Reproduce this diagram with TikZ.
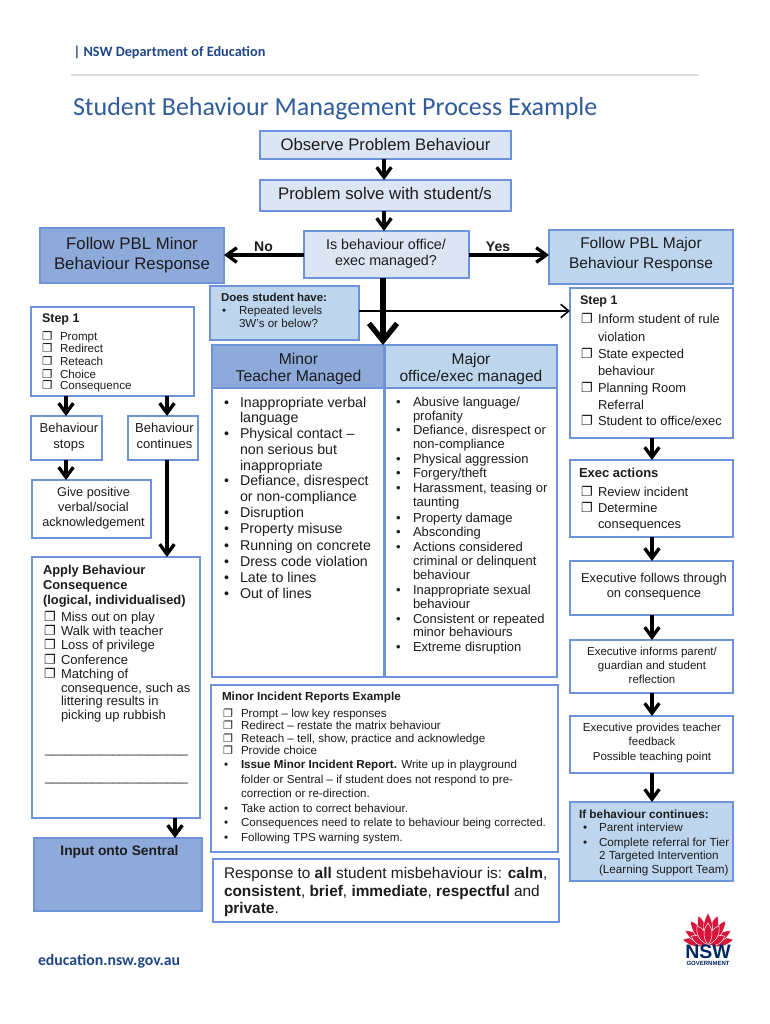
\documentclass[tikz,border=0pt]{standalone}
\usepackage{fontspec}
\setmainfont{Liberation Sans}
\newfontfamily\calib{Carlito}
\newfontfamily\djv{DejaVu Sans}
\usetikzlibrary{arrows.meta}
\definecolor{bord}{HTML}{6F93DA}
\definecolor{lightb}{HTML}{DCE5F3}
\definecolor{midb}{HTML}{8EAADB}
\definecolor{paleb}{HTML}{BDD6EE}
\definecolor{navy}{HTML}{1F4788}
\definecolor{titleb}{HTML}{2F5C9A}
\definecolor{ink}{HTML}{1C1C1C}
\definecolor{waratah}{HTML}{D7153A}
\definecolor{govnavy}{HTML}{002664}
\newcommand\fs[1]{\fontsize{\fpeval{#1*0.75}}{\fpeval{#1*0.9}}\selectfont}
\newcount\tn
\newcommand\bx[6]{\node[boxn,#2,minimum width=\fpeval{(#5-#3)*0.75}pt,minimum height=\fpeval{(#6-#4)*0.75}pt] (#1) at (\fpeval{(#3+#5)/2},\fpeval{(#4+#6)/2}) {};}
\newcommand\tl[4]{\global\advance\tn by 1 \node[txtl] (t\number\tn) at (#2,#3) {\fs{#1}#4};}
\newcommand\tc[4]{\global\advance\tn by 1 \node[txtc] (t\number\tn) at (#2,#3) {\fs{#1}#4};}
\newcommand\ckl[3]{\global\advance\tn by 1 \node[txtl] (t\number\tn) at (#2,#3) {\djv\fs{\fpeval{#1*1.05}}❐};}
\newcommand\bul[3]{\global\advance\tn by 1 \node[txtl] (t\number\tn) at (#2,#3) {\fs{#1}•};}
\newcommand\petal[3]{\fill[waratah,draw=white,line width=0.35pt,shift={(708,945)},rotate=#1] (0,0) .. controls (-#3,-0.45*#2) and (-0.5*#3,-0.8*#2) .. (0,-#2) .. controls (0.5*#3,-0.8*#2) and (#3,-0.45*#2) .. (0,0) -- cycle;}
\tikzset{
 boxn/.style={draw=bord,line width=0.95pt,inner sep=0pt,outer sep=0pt,fill=white,rectangle},
 lightfill/.style={fill=lightb},
 midfill/.style={fill=midb},
 palefill/.style={fill=paleb},
 txtl/.style={anchor=base west,inner sep=0pt,outer sep=0pt,text=ink},
 txtc/.style={anchor=base,inner sep=0pt,outer sep=0pt,text=ink},
 flow/.style={draw=black,line width=2.7pt,-{Straight Barb[length=7.5pt,width=11pt,line width=2.5pt]}},
 thin flow/.style={draw=black,line width=1.2pt,-{Straight Barb[length=6pt,width=10pt,line width=1.2pt]}},
 big flow/.style={draw=black,line width=4.4pt,-{Straight Barb[length=13pt,width=21pt,line width=4pt]}}
}
\begin{document}
\begin{tikzpicture}[x=0.75pt,y=-0.75pt]
\useasboundingbox (0,0) rectangle (770,1024);
% header
\node[txtl,text=navy] (hdr) at (73.5,57) {\calib\bfseries\fs{14.3}| NSW Department of Education};
\coordinate (ruleA) at (71,75); \coordinate (ruleB) at (699,75);
\draw[color=black!13,line width=1.2pt] (ruleA) -- (ruleB);
\node[txtl,text=titleb] (title) at (73,115) {\calib\fs{26}Student Behaviour Management Process Example};
% boxes
\bx{obs}{lightfill}{260}{131}{511}{159}
\bx{prob}{lightfill}{260}{180}{511}{211}
\bx{isb}{lightfill}{304}{231}{469}{278}
\bx{minresp}{midfill}{40}{228}{224}{283}
\bx{majresp}{palefill}{549}{230}{733}{284}
\bx{does}{palefill}{210}{286}{359}{340}
\bx{stepL}{}{31}{307}{194}{396}
\bx{minh}{midfill}{212}{345}{384}{388}
\bx{majh}{palefill}{385}{345}{557}{388}
\bx{minl}{}{212}{388}{384}{677}
\bx{majl}{}{385}{388}{557}{677}
\bx{report}{}{211}{685}{558}{852}
\bx{resp}{}{213}{859}{559}{922}
\bx{stepR}{}{570}{288}{733}{438}
\bx{execa}{}{570}{460}{733}{537}
\bx{follows}{}{570}{561}{733}{615}
\bx{informs}{}{570}{640}{733}{693}
\bx{provides}{}{570}{716}{733}{773}
\bx{ifcont}{palefill}{570}{802}{733}{881}
\bx{stops}{}{31}{416}{102}{460}
\bx{cont}{}{128}{416}{198}{460}
\bx{give}{}{32}{480}{151}{538}
\bx{apply}{}{32}{557}{200}{818}
\bx{input}{midfill}{34}{838}{202}{911}
% arrow guide coordinates
\coordinate (xa) at (384,0); \coordinate (xb) at (383,0); \coordinate (xc) at (66,0);
\coordinate (xd) at (167,0); \coordinate (xe) at (175,0); \coordinate (xf) at (652,0);
\coordinate (ya) at (0,255); \coordinate (yb) at (0,311);
% arrows
\draw[flow] (obs.south -| xa) -- (prob.north -| xa);
\draw[flow] (prob.south -| xa) -- (isb.north -| xa);
\draw[flow] (isb.west |- ya) -- (minresp.east |- ya);
\draw[flow] (isb.east |- ya) -- (majresp.west |- ya);
\draw[thin flow] (does.east |- yb) -- (stepR.west |- yb);
\draw[big flow] (isb.south -| xb) -- (minh.north -| xb);
\draw[flow] (stepL.south -| xc) -- (stops.north -| xc);
\draw[flow] (stepL.south -| xd) -- (cont.north -| xd);
\draw[flow] (stops.south -| xc) -- (give.north -| xc);
\draw[flow] (cont.south -| xd) -- (apply.north -| xd);
\draw[flow] (apply.south -| xe) -- (input.north -| xe);
\draw[flow] (stepR.south -| xf) -- (execa.north -| xf);
\draw[flow] (execa.south -| xf) -- (follows.north -| xf);
\draw[flow] (follows.south -| xf) -- (informs.north -| xf);
\draw[flow] (informs.south -| xf) -- (provides.north -| xf);
\draw[flow] (provides.south -| xf) -- (ifcont.north -| xf);
% top texts
\tc{16.7}{385.5}{150}{Observe Problem Behaviour}
\tc{16.8}{385}{199}{Problem solve with student/s}
\tc{16.8}{132}{249}{Follow PBL Minor}
\tc{16.8}{132}{269}{Behaviour Response}
\tc{14.3}{386}{249}{Is behaviour office/}
\tc{14.3}{386}{265}{exec managed?}
\tc{14}{263.5}{251.5}{\bfseries No}
\tc{14}{498}{251.5}{\bfseries Yes}
\tc{15.5}{641}{248}{Follow PBL Major}
\tc{15.5}{641}{268}{Behaviour Response}
% does
\tl{11.5}{221}{301}{\bfseries Does student have:}
\bul{11.5}{222}{314}
\tl{11.6}{239}{314}{Repeated levels}
\tl{11.6}{239}{327}{3W's or below?}
% step left
\tl{12.5}{42}{322}{\bfseries Step 1}
\ckl{11}{42}{340}\tl{11.6}{60}{340}{Prompt}
\ckl{11}{42}{352.5}\tl{11.6}{60}{352.5}{Redirect}
\ckl{11}{42}{365}\tl{11.6}{60}{365}{Reteach}
\ckl{11}{42}{378}\tl{11.6}{60}{378}{Choice}
\ckl{11}{42}{389}\tl{11.6}{60}{389}{Consequence}
% headers
\tc{15.7}{298.5}{364}{Minor}
\tc{15.7}{298.5}{381}{Teacher Managed}
\tc{15.5}{471}{364}{Major}
\tc{15.5}{471}{381}{office/exec managed}
% minor list
\bul{14.2}{224}{407}\tl{14.2}{240}{407}{Inappropriate verbal}
\tl{14.2}{240}{422}{language}
\bul{14.2}{224}{438}\tl{14.2}{240}{438}{Physical contact –}
\tl{14.2}{240}{454}{non serious but}
\tl{14.2}{240}{470}{inappropriate}
\bul{14.2}{224}{485}\tl{14.2}{240}{485}{Defiance, disrespect}
\tl{14.2}{240}{501}{or non-compliance}
\bul{14.2}{224}{517}\tl{14.2}{240}{517}{Disruption}
\bul{14.2}{224}{533}\tl{14.2}{240}{533}{Property misuse}
\bul{14.2}{224}{550}\tl{14.2}{240}{550}{Running on concrete}
\bul{14.2}{224}{566}\tl{14.2}{240}{566}{Dress code violation}
\bul{14.2}{224}{582}\tl{14.2}{240}{582}{Late to lines}
\bul{14.2}{224}{598}\tl{14.2}{240}{598}{Out of lines}
% major list
\bul{13}{396}{406}\tl{13}{413}{406}{Abusive language/}
\tl{13}{413}{420}{profanity}
\bul{13}{396}{434}\tl{13}{413}{434}{Defiance, disrespect or}
\tl{13}{413}{448}{non-compliance}
\bul{13}{396}{463}\tl{13}{413}{463}{Physical aggression}
\bul{13}{396}{477}\tl{13}{413}{477}{Forgery/theft}
\bul{13}{396}{492}\tl{13}{413}{492}{Harassment, teasing or}
\tl{13}{413}{506}{taunting}
\bul{13}{396}{522}\tl{13}{413}{522}{Property damage}
\bul{13}{396}{536}\tl{13}{413}{536}{Absconding}
\bul{13}{396}{551}\tl{13}{413}{551}{Actions considered}
\tl{13}{413}{565}{criminal or delinquent}
\tl{13}{413}{579}{behaviour}
\bul{13}{396}{594}\tl{13}{413}{594}{Inappropriate sexual}
\tl{13}{413}{608}{behaviour}
\bul{13}{396}{623}\tl{13}{413}{623}{Consistent or repeated}
\tl{13}{413}{636}{minor behaviours}
\bul{13}{396}{651}\tl{13}{413}{651}{Extreme disruption}
% report
\tl{11.7}{222}{700}{\bfseries Minor Incident Reports Example}
\ckl{10.5}{223}{717}\tl{11.6}{241}{717}{Prompt – low key responses}
\ckl{10.5}{223}{729}\tl{11.6}{241}{729}{Redirect – restate the matrix behaviour}
\ckl{10.5}{223}{742}\tl{11.6}{241}{742}{Reteach – tell, show, practice and acknowledge}
\ckl{10.5}{223}{754}\tl{11.6}{241}{754}{Provide choice}
\bul{11.6}{224}{768}\tl{11.6}{241}{768}{\textbf{Issue Minor Incident Report.} Write up in playground}
\tl{11.6}{241}{783}{folder or Sentral – if student does not respond to pre-}
\tl{11.6}{241}{797}{correction or re-direction.}
\bul{11.6}{224}{812}\tl{11.6}{241}{812}{Take action to correct behaviour.}
\bul{11.6}{224}{826}\tl{11.6}{241}{826}{Consequences need to relate to behaviour being corrected.}
\bul{11.6}{224}{841}\tl{11.6}{241}{841}{Following TPS warning system.}
% response
\tl{15.4}{224}{878}{Response to \textbf{all} student misbehaviour is: \textbf{calm},}
\tl{15.4}{224}{896}{\textbf{consistent}, \textbf{brief}, \textbf{immediate}, \textbf{respectful} and}
\tl{15.4}{224}{913}{\textbf{private}.}
% left lower
\tc{13}{69}{432}{Behaviour}
\tc{13}{69}{448}{stops}
\tc{13}{164.5}{432}{Behaviour}
\tc{13}{164.5}{448}{continues}
\tc{12.7}{93.5}{496}{Give positive}
\tc{12.7}{93.5}{511}{verbal/social}
\tc{12.7}{93.5}{526}{acknowledgement}
\tl{12.9}{43}{574}{\bfseries Apply Behaviour}
\tl{12.9}{43}{589}{\bfseries Consequence}
\tl{12.9}{43}{604}{\bfseries (logical, individualised)}
\ckl{12.5}{44}{621}\tl{13}{61}{621}{Miss out on play}
\ckl{12.5}{44}{635}\tl{13}{61}{635}{Walk with teacher}
\ckl{12.5}{44}{649}\tl{13}{61}{649}{Loss of privilege}
\ckl{12.5}{44}{664}\tl{13}{61}{664}{Conference}
\ckl{12.5}{44}{678}\tl{13}{61}{678}{Matching of}
\tl{13}{61}{692}{consequence, such as}
\tl{13}{61}{705}{littering results in}
\tl{13}{61}{719}{picking up rubbish}
\tl{12.25}{45}{753}{\_\_\_\_\_\_\_\_\_\_\_\_\_\_\_\_\_\_\_\_\_}
\tl{12.25}{45}{781}{\_\_\_\_\_\_\_\_\_\_\_\_\_\_\_\_\_\_\_\_\_}
\tc{13.8}{119.5}{855}{\bfseries Input onto Sentral}
% right
\tl{12.5}{580}{304}{\bfseries Step 1}
\ckl{12.5}{581}{323}\tl{12.9}{598}{323}{Inform student of rule}
\tl{12.9}{598}{341}{violation}
\ckl{12.5}{581}{358}\tl{12.9}{598}{358}{State expected}
\tl{12.9}{598}{375}{behaviour}
\ckl{12.5}{581}{392}\tl{12.9}{598}{392}{Planning Room}
\tl{12.9}{598}{409}{Referral}
\ckl{12.5}{581}{425}\tl{12.9}{598}{425}{Student to office/exec}
\tl{13}{579}{477}{\bfseries Exec actions}
\ckl{12.5}{581}{496}\tl{12.9}{598}{496}{Review incident}
\ckl{12.5}{581}{512}\tl{12.9}{598}{512}{Determine}
\tl{12.9}{598}{528}{consequences}
\tc{12.85}{654}{582}{Executive follows through}
\tc{12.85}{654}{597}{on consequence}
\tc{11.5}{652}{655}{Executive informs parent/}
\tc{11.5}{652}{669}{guardian and student}
\tc{11.5}{652}{683}{reflection}
\tc{11.5}{652}{731}{Executive provides teacher}
\tc{11.5}{652}{745}{feedback}
\tc{11.5}{652}{760}{Possible teaching point}
\tl{11.8}{579}{818}{\bfseries If behaviour continues:}
\bul{11.7}{583}{831}\tl{11.7}{599}{831}{Parent interview}
\bul{11.7}{583}{846}\tl{11.7}{599}{846}{Complete referral for Tier}
\tl{11.7}{599}{859}{2 Targeted Intervention}
\tl{11.7}{599}{873}{(Learning Support Team)}
\node[txtl,text=navy] (edu) at (38,965) {\calib\bfseries\fs{15.8}education.nsw.gov.au};
% logo
\petal{-78}{26}{7}\petal{78}{26}{7}
\petal{-58}{27}{7}\petal{58}{27}{7}
\petal{-36}{30}{7.5}\petal{36}{30}{7.5}
\petal{-18}{31}{7.5}\petal{18}{31}{7.5}
\petal{0}{32}{8}
\petal{-62}{19}{7}\petal{62}{19}{7}
\petal{-30}{22}{7}\petal{30}{22}{7}
\petal{0}{22}{7}
\node[anchor=base,inner sep=0pt,text=govnavy] (nswtxt) at (708,958) {\bfseries\fs{19.5}NSW};
\node[anchor=base,inner sep=0pt,text=govnavy] (govtxt) at (708,965.5) {\bfseries\fs{6}GOVERNMENT};
\end{tikzpicture}
\end{document}
